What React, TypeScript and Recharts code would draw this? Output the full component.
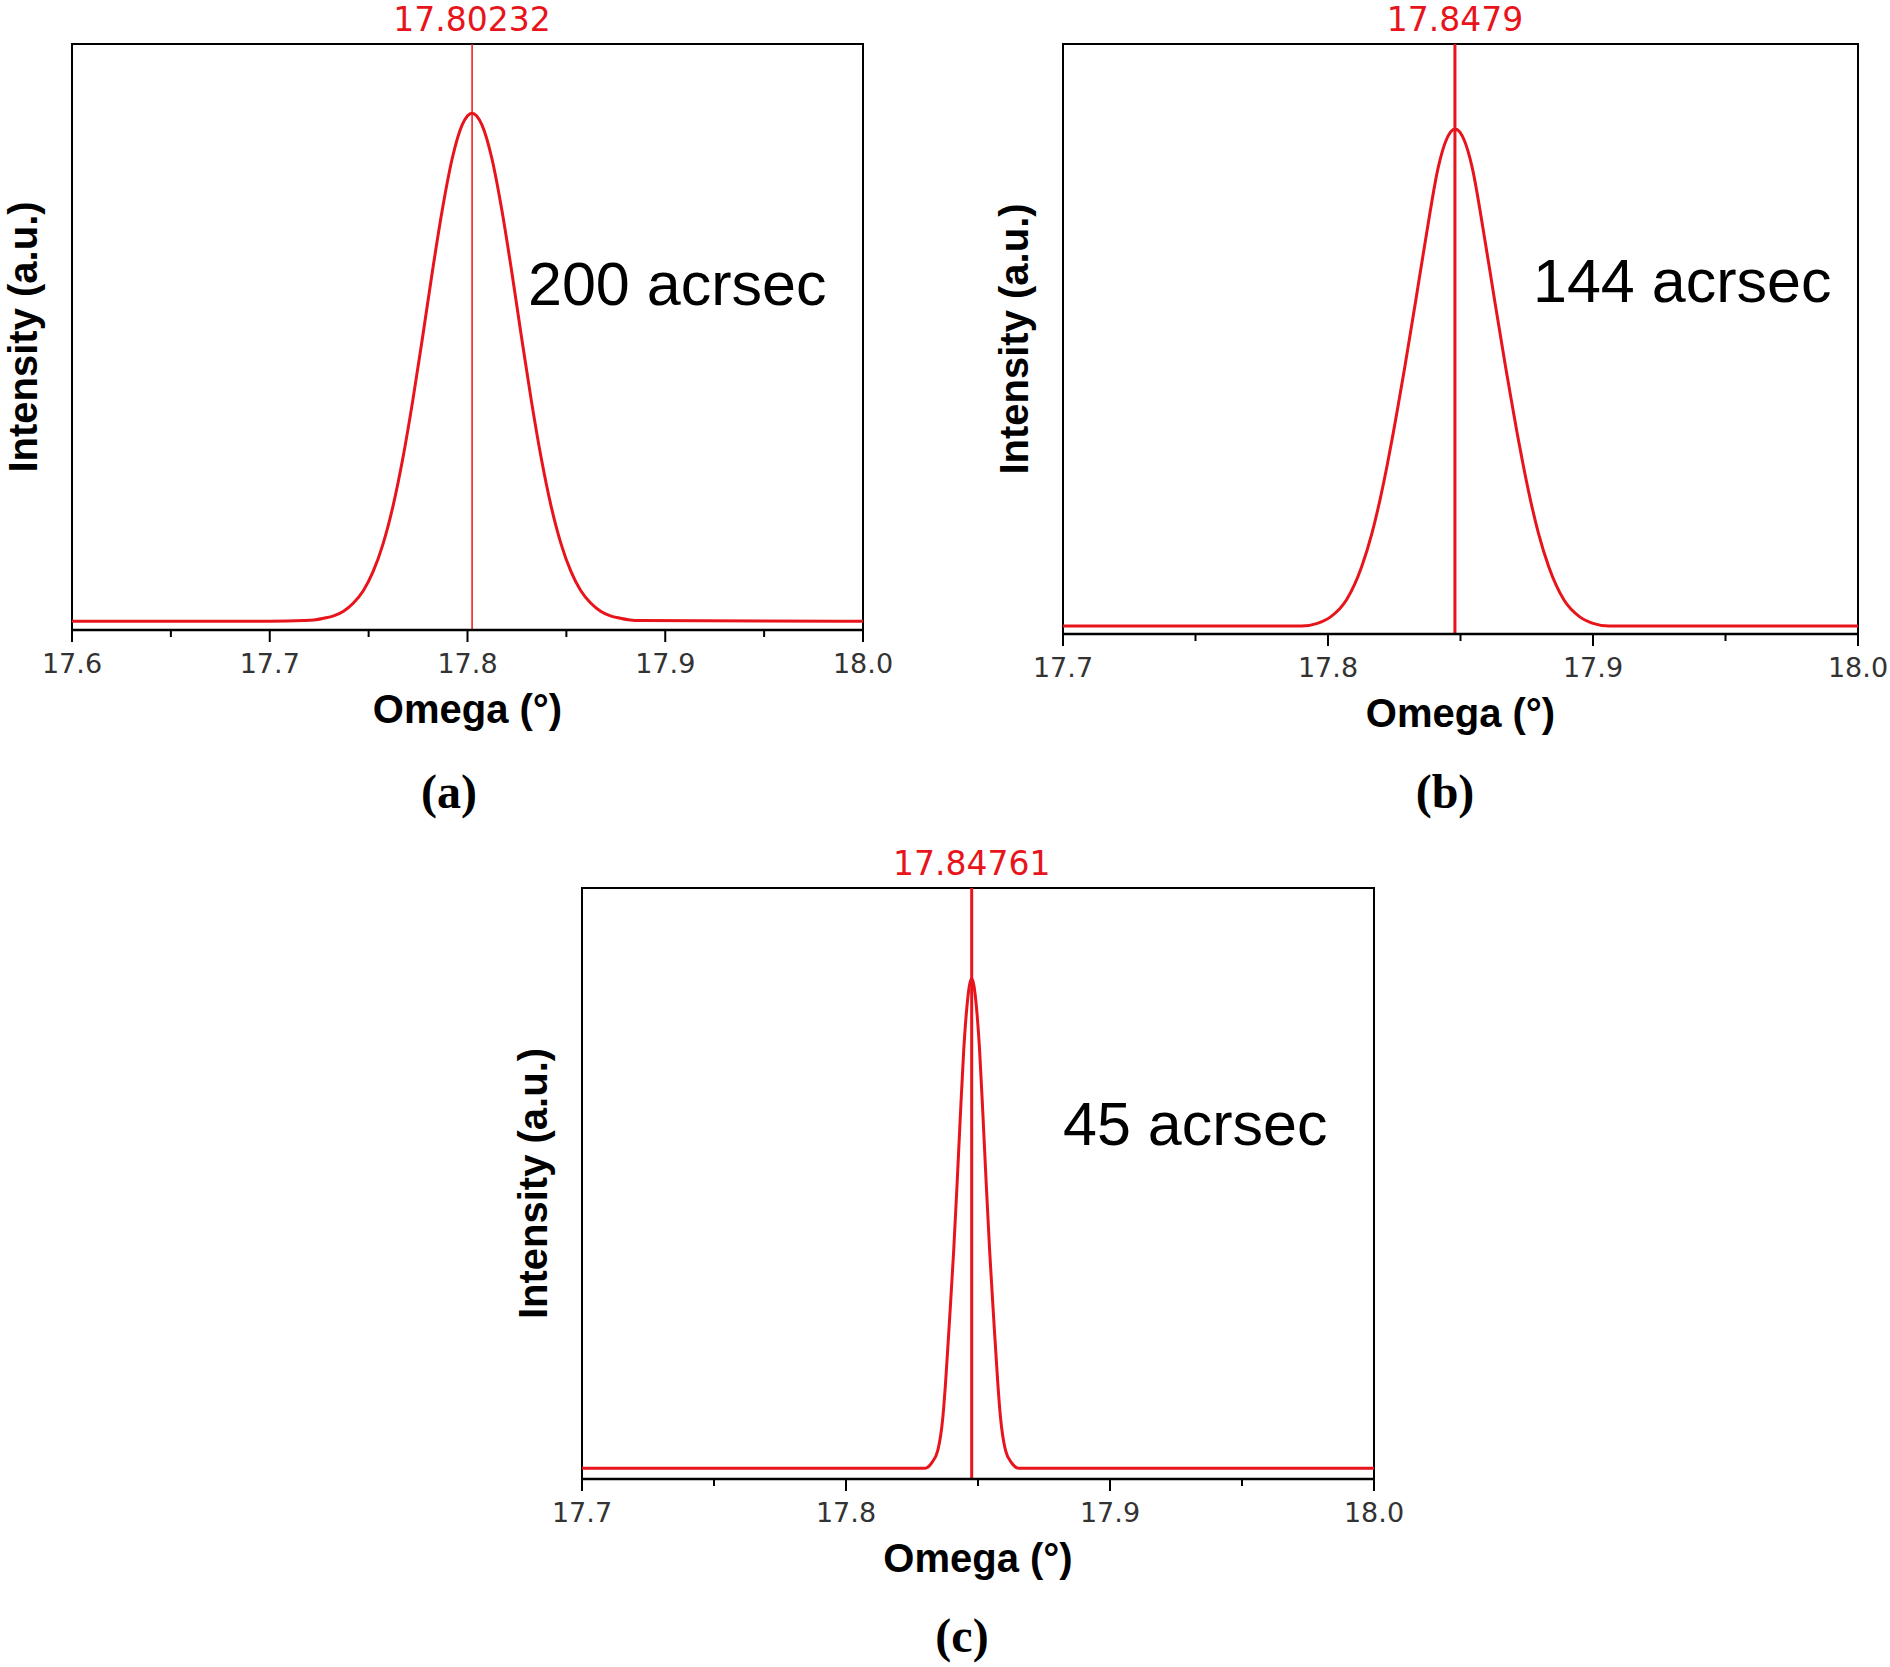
import React from 'react';
import { LineChart, Line, XAxis, YAxis, ReferenceLine, ReferenceArea } from 'recharts';

const RED = '#e8141b';
const FONT = '"Liberation Sans", Arial, sans-serif';
const WIDE_FONT = '"DejaVu Sans", "Liberation Sans", Arial, sans-serif';
const SERIF = '"Liberation Serif", "Times New Roman", serif';

// ---------- Panel (a) ----------
const omegaA = [
  17.6, 17.7, 17.7173, 17.7223, 17.7273, 17.7323, 17.7373, 17.7423, 17.7473, 17.7523,
  17.7573, 17.7623, 17.7673, 17.7723, 17.7773, 17.7823, 17.7873, 17.7923, 17.7973, 17.8023,
  17.8073, 17.8123, 17.8173, 17.8223, 17.8273, 17.8323, 17.8373, 17.8423, 17.8473, 17.8523,
  17.8573, 17.8623, 17.8673, 17.8723, 17.8773, 17.8823, 17.8873, 18.0,
];
const intensityA = [
  1.5, 1.5, 1.6, 1.7, 2.0, 2.4, 3.2, 4.6, 6.7, 10.0,
  14.7, 21.1, 29.3, 39.1, 50.0, 61.3, 71.8, 80.5, 86.2, 88.2,
  86.2, 80.5, 71.8, 61.3, 50.0, 39.1, 29.3, 21.1, 14.7, 10.0,
  6.7, 4.6, 3.2, 2.4, 2.0, 1.7, 1.6, 1.5,
];
const ticksA = [17.6, 17.65, 17.7, 17.75, 17.8, 17.85, 17.9, 17.95, 18.0];
const majorTicksA = [17.6, 17.7, 17.8, 17.9, 18.0];
const peakA = 17.80232;
const peakLabelA = '17.80232';
const widthLabelA = '200 acrsec';

// ---------- Panel (b) ----------
const omegaB = [
  17.7, 17.79, 17.796, 17.801, 17.807, 17.8127, 17.8166, 17.8196, 17.8222, 17.8246,
  17.8268, 17.829, 17.8331, 17.8372, 17.8416, 17.8445, 17.848, 17.8515, 17.8544, 17.8588,
  17.8629, 17.867, 17.8692, 17.8714, 17.8738, 17.8764, 17.8794, 17.8833, 17.889, 17.895,
  17.9, 17.906, 18.0,
];
const intensityB = [
  1.35, 1.35, 1.8, 2.9, 5.8, 11.4, 17.1, 22.7, 28.3, 34.0,
  39.6, 45.3, 56.5, 67.9, 79.1, 83.6, 85.6, 83.6, 79.1, 67.9,
  56.5, 45.3, 39.6, 34.0, 28.3, 22.7, 17.1, 11.4, 5.8, 2.9,
  1.8, 1.35, 1.35,
];
const ticksBC = [17.7, 17.75, 17.8, 17.85, 17.9, 17.95, 18.0];
const majorTicksBC = [17.7, 17.8, 17.9, 18.0];
const peakB = 17.8479;
const peakLabelB = '17.8479';
const widthLabelB = '144 acrsec';

// ---------- Panel (c) ----------
const omegaC = [
  17.7, 17.8296, 17.8324, 17.8348, 17.8367, 17.8377, 17.8393, 17.8408, 17.8421, 17.8433,
  17.8446, 17.8458, 17.8476, 17.8494, 17.8506, 17.8519, 17.8531, 17.8544, 17.8559, 17.8575,
  17.8585, 17.8604, 17.8628, 17.8656, 18.0,
];
const intensityC = [
  1.8, 1.8, 2.7, 4.9, 10.5, 16.2, 27.5, 38.7, 50.1, 61.3,
  72.6, 79.9, 84.7, 79.9, 72.6, 61.3, 50.1, 38.7, 27.5, 16.2,
  10.5, 4.9, 2.7, 1.8, 1.8,
];
const peakC = 17.84761;
const peakLabelC = '17.84761';
const widthLabelC = '45 acrsec';

const Y_DOMAIN = [0, 100];
const X_TITLE = 'Omega (°)';
const Y_TITLE = 'Intensity (a.u.)';

const Y_AXIS_W = 98;
const X_AXIS_H = 158;
const M_TOP = 60;
const M_RIGHT = 40;
const M_BOTTOM = 40;

function AxisTick(props: any) {
  const { x, y, payload, majors } = props;
  const v = payload.value as number;
  const isMajor = majors.some((m: number) => Math.abs(m - v) < 1e-6);
  return (
    <g>
      <line x1={x} x2={x} y1={y} y2={y + (isMajor ? 12 : 7)} stroke="#000" strokeWidth={2} />
      {isMajor && (
        <text
          x={x}
          y={y + 33}
          dy="0.36em"
          textAnchor="middle"
          fontSize={27}
          fill="#333"
          fontFamily={WIDE_FONT}
        >
          {v.toFixed(1)}
        </text>
      )}
    </g>
  );
}

type PanelProps = {
  plotLeft: number;
  plotTop: number;
  plotW: number;
  plotH: number;
  domain: number[];
  ticks: number[];
  majors: number[];
  omega: number[];
  intensity: number[];
  peak: number;
  peakLabel: string;
  refWidth: number;
  labelOffset: number;
};

function Panel(p: PanelProps) {
  const data = p.omega.map((x, i) => ({ x, y: p.intensity[i] }));
  const width = Y_AXIS_W + p.plotW + M_RIGHT;
  const height = M_TOP + p.plotH + X_AXIS_H + M_BOTTOM;
  return (
    <div
      style={{
        position: 'absolute',
        left: p.plotLeft - Y_AXIS_W,
        top: p.plotTop - M_TOP,
        width,
        height,
      }}
    >
      <LineChart
        width={width}
        height={height}
        data={data}
        margin={{ top: M_TOP, right: M_RIGHT, bottom: M_BOTTOM, left: 0 }}
        style={{ overflow: 'visible' }}
      >
        <XAxis
          type="number"
          dataKey="x"
          domain={p.domain}
          ticks={p.ticks}
          interval={0}
          allowDataOverflow
          tickLine={false}
          tickSize={0}
          tickMargin={0}
          height={X_AXIS_H}
          axisLine={{ stroke: '#000', strokeWidth: 2.5 }}
          tick={(tp: any) => <AxisTick {...tp} majors={p.majors} />}
          label={{
            value: X_TITLE,
            position: 'center',
            fontSize: 40,
            fontWeight: 'bold',
            fill: '#000',
            fontFamily: FONT,
          }}
        />
        <YAxis
          type="number"
          domain={Y_DOMAIN}
          width={Y_AXIS_W}
          tick={false}
          tickLine={false}
          axisLine={false}
          allowDataOverflow
          label={{
            value: Y_TITLE,
            angle: -90,
            position: 'center',
            fontSize: 40,
            fontWeight: 'bold',
            fill: '#000',
            fontFamily: FONT,
          }}
        />
        <ReferenceArea
          x1={p.domain[0]}
          x2={p.domain[1]}
          y1={Y_DOMAIN[0]}
          y2={Y_DOMAIN[1]}
          fill="none"
          fillOpacity={0}
          stroke="#000"
          strokeWidth={2}
        />
        <Line
          type="monotone"
          dataKey="y"
          stroke={RED}
          strokeWidth={3}
          dot={false}
          activeDot={false}
          isAnimationActive={false}
        />
        <ReferenceLine
          x={p.peak}
          stroke={RED}
          strokeWidth={p.refWidth}
          label={{
            value: p.peakLabel,
            position: 'top',
            offset: p.labelOffset,
            fill: RED,
            fontSize: 33,
            fontFamily: WIDE_FONT,
          }}
        />
      </LineChart>
    </div>
  );
}

export default function App() {
  return (
    <div
      style={{
        position: 'absolute',
        left: 0,
        top: 0,
        width: 1890,
        height: 1667,
        background: '#fff',
        overflow: 'hidden',
      }}
    >
      <Panel
        plotLeft={72}
        plotTop={44}
        plotW={791}
        plotH={586}
        domain={[17.6, 18.0]}
        ticks={ticksA}
        majors={majorTicksA}
        omega={omegaA}
        intensity={intensityA}
        peak={peakA}
        peakLabel={peakLabelA}
        refWidth={1.5}
        labelOffset={13}
      />
      <Panel
        plotLeft={1063}
        plotTop={44}
        plotW={795}
        plotH={590}
        domain={[17.7, 18.0]}
        ticks={ticksBC}
        majors={majorTicksBC}
        omega={omegaB}
        intensity={intensityB}
        peak={peakB}
        peakLabel={peakLabelB}
        refWidth={3}
        labelOffset={13}
      />
      <Panel
        plotLeft={582}
        plotTop={888}
        plotW={792}
        plotH={591}
        domain={[17.7, 18.0]}
        ticks={ticksBC}
        majors={majorTicksBC}
        omega={omegaC}
        intensity={intensityC}
        peak={peakC}
        peakLabel={peakLabelC}
        refWidth={3}
        labelOffset={13}
      />
      <svg
        width={1890}
        height={1667}
        style={{ position: 'absolute', left: 0, top: 0, pointerEvents: 'none' }}
      >
        <text x={528} y={305} fontSize={61} fontFamily={FONT} fill="#000">
          {widthLabelA}
        </text>
        <text x={1533} y={302} fontSize={61} fontFamily={FONT} fill="#000">
          {widthLabelB}
        </text>
        <text x={1063} y={1145} fontSize={61} fontFamily={FONT} fill="#000">
          {widthLabelC}
        </text>
        <text x={449} y={808} fontSize={48} fontWeight="bold" fontFamily={SERIF} textAnchor="middle" fill="#000">
          (a)
        </text>
        <text x={1445} y={808} fontSize={48} fontWeight="bold" fontFamily={SERIF} textAnchor="middle" fill="#000">
          (b)
        </text>
        <text x={962} y={1652} fontSize={48} fontWeight="bold" fontFamily={SERIF} textAnchor="middle" fill="#000">
          (c)
        </text>
      </svg>
    </div>
  );
}
